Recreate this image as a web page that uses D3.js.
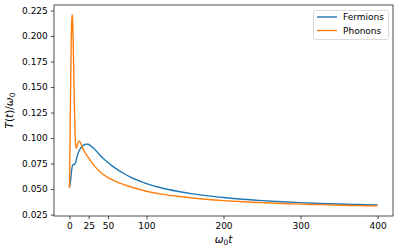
<!DOCTYPE html>
<html>
<head>
<meta charset="utf-8">
<script src="https://cdn.jsdelivr.net/npm/d3@7"></script>
<style>
  body { margin: 0; background: #fff; }
  text { font-family: "DejaVu Sans", sans-serif; fill: #000; }
</style>
</head>
<body>
<svg id="chart" width="399" height="251"></svg>
<script>
'use strict';

// Data
var fermionT = [0, 1, 2, 3, 4, 5, 6, 7, 8, 9, 10, 12, 14, 16, 18, 20, 22, 24, 27, 30, 35, 40, 45,
    50, 55, 60, 70, 80, 90, 100, 120, 140, 160, 180, 200, 225, 250, 275, 300, 325, 350, 375, 400];
var fermionVals = [0.052, 0.055, 0.062, 0.069, 0.073, 0.0742, 0.0740, 0.0745, 0.0760, 0.079, 0.082,
    0.0865, 0.0895, 0.0915, 0.0928, 0.0937, 0.0940, 0.0939, 0.0928, 0.0910, 0.0872, 0.0830, 0.0793,
    0.0760, 0.0730, 0.0703, 0.0655, 0.0615, 0.0582, 0.0554, 0.0510, 0.0478, 0.0453, 0.0433, 0.0417,
    0.0400, 0.0387, 0.0376, 0.0367, 0.0359, 0.0353, 0.0348, 0.0344];

var phononT = [0, 0.5, 1, 1.5, 2, 2.5, 3, 3.6, 4.2, 5, 6, 7, 7.8, 8.8, 10, 11, 12.5, 14, 16, 18, 20,
    22, 25, 30, 35, 40, 50, 60, 70, 80, 90, 100, 120, 140, 160, 180, 200, 225, 250, 275, 300,
    325, 350, 375, 400];
var phononVals = [0.051, 0.075, 0.11, 0.145, 0.175, 0.200, 0.215, 0.221, 0.215, 0.190, 0.150,
    0.115, 0.097, 0.0900, 0.0920, 0.0950, 0.0972, 0.0960, 0.0925, 0.0890, 0.0862, 0.0838,
    0.0805, 0.0750, 0.0705, 0.0668, 0.0613, 0.0576, 0.0546, 0.0520, 0.0498, 0.0479, 0.0450,
    0.0429, 0.0412, 0.0398, 0.0387, 0.0376, 0.0367, 0.0359, 0.0352, 0.0347, 0.0342, 0.0338, 0.0335];

var xTicks = [0, 25, 50, 100, 200, 300, 400];
var yTicks = [0.025, 0.050, 0.075, 0.100, 0.125, 0.150, 0.175, 0.200, 0.225];

var seriesNames = ['Fermions', 'Phonons'];
var colors = ['#1f77b4', '#ff7f0e'];

var plotLeft = 54, plotRight = 393, plotTop = 5, plotBottom = 216;

var svg = d3.select('#chart');

var x = d3.scaleLinear().domain([-20, 420]).range([plotLeft, plotRight]);
var y = d3.scaleLinear().domain([0.0236, 0.2304]).range([plotBottom, plotTop]);

var series = [
    fermionT.map(function (t, i) { return [t, fermionVals[i]]; }),
    phononT.map(function (t, i) { return [t, phononVals[i]]; })
];

var line = d3.line()
    .x(function (d) { return x(d[0]); })
    .y(function (d) { return y(d[1]); })
    .curve(d3.curveMonotoneX);

svg.append('g')
    .selectAll('path')
    .data(series)
    .join('path')
    .attr('d', line)
    .attr('fill', 'none')
    .attr('stroke', function (d, i) { return colors[i]; })
    .attr('stroke-width', 1.4)
    .attr('stroke-linejoin', 'round');

// Axes
var xAxis = svg.append('g')
    .attr('transform', 'translate(0,' + plotBottom + ')')
    .call(d3.axisBottom(x).tickValues(xTicks).tickSize(3.2).tickPadding(3).tickFormat(d3.format('d')));

var yAxis = svg.append('g')
    .attr('transform', 'translate(' + plotLeft + ',0)')
    .call(d3.axisLeft(y).tickValues(yTicks).tickSize(3.2).tickPadding(3).tickFormat(d3.format('.3f')));

[xAxis, yAxis].forEach(function (a) {
    a.select('.domain').remove();
    a.selectAll('line').attr('stroke', '#222').attr('stroke-width', 0.8);
    a.selectAll('text').attr('font-size', '9px').attr('font-family', 'DejaVu Sans').attr('fill', '#000');
});

// Frame
svg.append('rect')
    .attr('x', plotLeft)
    .attr('y', plotTop)
    .attr('width', plotRight - plotLeft)
    .attr('height', plotBottom - plotTop)
    .attr('fill', 'none')
    .attr('stroke', '#222')
    .attr('stroke-width', 0.8);

// Axis labels
var xl = svg.append('text')
    .attr('x', (plotLeft + plotRight) / 2)
    .attr('y', 243)
    .attr('text-anchor', 'middle')
    .attr('font-size', '10.5px')
    .attr('font-style', 'italic');
xl.append('tspan').text('ω');
xl.append('tspan').attr('font-size', '7.5px').attr('dy', 2).attr('font-style', 'normal').text('0');
xl.append('tspan').attr('dy', -2).text('t');

var yl = svg.append('text')
    .attr('transform', 'translate(13,' + ((plotTop + plotBottom) / 2) + ') rotate(-90)')
    .attr('text-anchor', 'middle')
    .attr('font-size', '10.5px');
yl.append('tspan').attr('font-style', 'italic').text('T');
yl.append('tspan').text('(');
yl.append('tspan').attr('font-style', 'italic').text('t');
yl.append('tspan').text(')/');
yl.append('tspan').attr('font-style', 'italic').text('ω');
yl.append('tspan').attr('font-size', '7.5px').attr('dy', 2).text('0');

// Legend
var legend = svg.append('g');
legend.append('rect')
    .attr('x', 313.5)
    .attr('y', 10.5)
    .attr('width', 75)
    .attr('height', 29)
    .attr('rx', 2)
    .attr('fill', '#fff')
    .attr('fill-opacity', 0.8)
    .attr('stroke', '#d0d0d0')
    .attr('stroke-width', 0.8);

var items = legend.selectAll('g.item')
    .data(seriesNames)
    .join('g')
    .attr('class', 'item')
    .attr('transform', function (d, i) { return 'translate(317,' + (17 + i * 13.5) + ')'; });

items.append('line')
    .attr('x1', 0).attr('x2', 20)
    .attr('stroke', function (d, i) { return colors[i]; })
    .attr('stroke-width', 1.4);

items.append('text')
    .attr('x', 26)
    .attr('dy', '0.35em')
    .attr('font-size', '9px')
    .text(function (d) { return d; });
</script>
</body>
</html>
